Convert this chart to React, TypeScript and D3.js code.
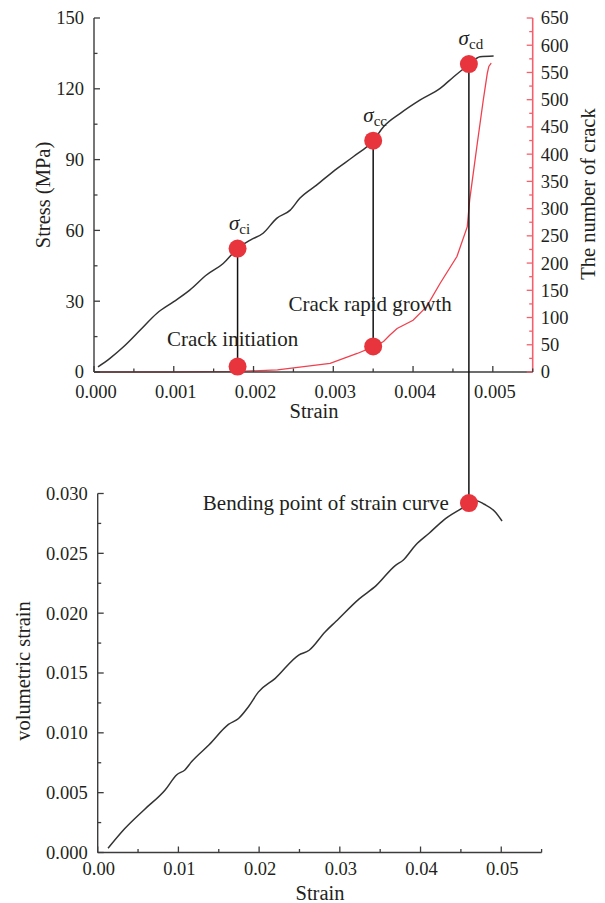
import React from "react";
import * as d3 from "d3";

// Stress–strain curve (axial strain, MPa)
const stressStrain = [0.00005, 0.0002, 0.00037, 0.00058, 0.00079, 0.001, 0.0012, 0.00141, 0.00162, 0.00179, 0.00196, 0.00212, 0.00229, 0.00246, 0.00258, 0.00279, 0.00305, 0.00325, 0.0035, 0.00363, 0.00384, 0.00409, 0.00434, 0.00451, 0.00471, 0.00484, 0.00501];
const stressMPa = [2.2, 5.8, 10.7, 17.8, 24.9, 29.8, 34.7, 41.1, 46, 52, 55.9, 58.8, 65.1, 68.6, 73.6, 79.2, 86.3, 91.2, 98, 103.9, 109.6, 115.3, 120.2, 125.1, 130.5, 133.6, 133.9];

// Cumulative crack count
const crackStrain = [0, 0.001, 0.0018, 0.0023, 0.00263, 0.00296, 0.00313, 0.0033, 0.0035, 0.00363, 0.00371, 0.0038, 0.004, 0.00417, 0.00434, 0.00455, 0.00468, 0.00471, 0.0048, 0.00488, 0.00493, 0.00495, 0.00498];
const crackCount = [0, 0, 1, 4, 10, 16, 25, 34, 46, 56, 68, 80, 95, 120, 163, 212, 267, 316, 414, 499, 548, 561, 567];

// Volumetric strain curve
const volAxialStrain = [0.00128, 0.00336, 0.0058, 0.00833, 0.0098, 0.0108, 0.01165, 0.0138, 0.0162, 0.01745, 0.0187, 0.0199, 0.022, 0.0249, 0.0262, 0.0282, 0.0295, 0.0324, 0.0345, 0.0369, 0.0378, 0.0394, 0.0411, 0.0429, 0.0452, 0.0461, 0.0469, 0.0479, 0.0492, 0.0501];
const volStrain = [0.00035, 0.002, 0.0036, 0.0052, 0.0065, 0.0069, 0.0076, 0.009, 0.0107, 0.0112, 0.0122, 0.0134, 0.01455, 0.0165, 0.0169, 0.01845, 0.0193, 0.0212, 0.0223, 0.024, 0.0244, 0.0257, 0.0267, 0.0278, 0.0288, 0.0292, 0.0294, 0.0291, 0.0285, 0.0277];

// Tick values
const stressTicks = [0, 30, 60, 90, 120, 150];
const crackTicks = [0, 50, 100, 150, 200, 250, 300, 350, 400, 450, 500, 550, 600, 650];
const topStrainTicks = [0, 0.001, 0.002, 0.003, 0.004, 0.005];
const volTicks = [0, 0.005, 0.01, 0.015, 0.02, 0.025, 0.03];
const bottomStrainTicks = [0, 0.01, 0.02, 0.03, 0.04, 0.05];

// Characteristic stresses
const stressPoints = [
  { sub: "ci", strain: 0.0018, stress: 52.3 },
  { sub: "cc", strain: 0.0035, stress: 98 },
  { sub: "cd", strain: 0.0047, stress: 130.5 },
];
const crackPoints = [
  { strain: 0.0018, count: 10 },
  { strain: 0.0035, count: 47 },
];
const bendPoint = { strain: 0.046, vol: 0.0292 };

const FONT = "'Liberation Serif', 'Times New Roman', serif";
const AXIS = "#3c3c3c";
const RED_AXIS = "#f2606c";
const RED_LINE = "#f0404e";
const DOT = "#e8343d";
const TEXT = "#231f20";

export default function App() {
  const xTop = d3.scaleLinear().domain([0, 0.0055]).range([94, 532.7]);
  const yStress = d3.scaleLinear().domain([0, 150]).range([372, 18]);
  const yCrack = d3.scaleLinear().domain([0, 650]).range([372, 18]);
  const xBot = d3.scaleLinear().domain([0, 0.055]).range([97.7, 541.6]);
  const yVol = d3.scaleLinear().domain([0, 0.03]).range([852.5, 493.5]);

  const stressLine = d3
    .line<number>()
    .curve(d3.curveMonotoneX)
    .x((_, i) => xTop(stressStrain[i]))
    .y((d) => yStress(d))(stressMPa) as string;
  const crackLine = d3
    .line<number>()
    .x((_, i) => xTop(crackStrain[i]))
    .y((d) => yCrack(d))(crackCount) as string;
  const volLine = d3
    .line<number>()
    .curve(d3.curveMonotoneX)
    .x((_, i) => xBot(volAxialStrain[i]))
    .y((d) => yVol(d))(volStrain) as string;

  const x0 = xTop(0);
  const x1 = xTop(0.0055);
  const yb = yStress(0);
  const bx0 = xBot(0);
  const bx1 = xBot(0.055);
  const byb = yVol(0);

  const MAJ = 6;
  const MIN = 3.5;

  return (
    <svg
      width={605}
      height={903}
      style={{ position: "absolute", left: 0, top: 0, background: "#fff" }}
      fontFamily={FONT}
    >
      <rect x={0} y={0} width={605} height={903} fill="#fff" />

      {/* ---------- Upper panel: stress and crack count ---------- */}
      <g>
        <path d={crackLine} fill="none" stroke={RED_LINE} strokeWidth={1.3} />
        <path d={stressLine} fill="none" stroke="#333" strokeWidth={1.5} />

        <line x1={x0} y1={yStress(150)} x2={x0} y2={yb} stroke={AXIS} strokeWidth={1.4} />
        <line x1={x0} y1={yb} x2={x1} y2={yb} stroke={AXIS} strokeWidth={1.4} />
        <line x1={x1} y1={yCrack(650)} x2={x1} y2={yb} stroke={RED_AXIS} strokeWidth={1.6} />

        {d3.range(0, 11).map((i) => {
          const y = yStress(i * 15);
          return (
            <line key={`sl${i}`} x1={x0} x2={x0 + (i % 2 === 0 ? MAJ : MIN)} y1={y} y2={y} stroke={AXIS} strokeWidth={1.3} />
          );
        })}
        {stressTicks.map((v) => (
          <text key={`st${v}`} x={x0 - 10} y={yStress(v)} dy="0.35em" textAnchor="end" fontSize={18.5} fill={TEXT}>
            {v}
          </text>
        ))}

        {d3.range(0, 27).map((i) => {
          const y = yCrack(i * 25);
          return (
            <line key={`cl${i}`} x1={x1} x2={x1 - (i % 2 === 0 ? MAJ : MIN)} y1={y} y2={y} stroke={RED_AXIS} strokeWidth={1.3} />
          );
        })}
        {crackTicks.map((v) => (
          <text key={`ct${v}`} x={x1 + 8} y={yCrack(v)} dy="0.35em" textAnchor="start" fontSize={18.5} fill={TEXT}>
            {v}
          </text>
        ))}

        {d3.range(0, 12).map((i) => {
          const x = xTop(i * 0.0005);
          return (
            <line key={`xl${i}`} x1={x} x2={x} y1={yb} y2={yb - (i % 2 === 0 ? MAJ : MIN)} stroke={AXIS} strokeWidth={1.3} />
          );
        })}
        {topStrainTicks.map((v) => (
          <text key={`xt${v}`} x={xTop(v) + 2} y={yb + 26} textAnchor="middle" fontSize={18.5} fill={TEXT}>
            {v.toFixed(3)}
          </text>
        ))}

        <text x={314} y={418} textAnchor="middle" fontSize={20.5} fill={TEXT}>
          Strain
        </text>
        <text transform="translate(43,195) rotate(-90)" dy="0.35em" textAnchor="middle" fontSize={20.5} fill={TEXT}>
          Stress (MPa)
        </text>
        <text transform="translate(588,194) rotate(-90)" dy="0.35em" textAnchor="middle" fontSize={20.5} fill={TEXT}>
          The number of crack
        </text>
      </g>

      {/* ---------- Lower panel: volumetric strain ---------- */}
      <g>
        <path d={volLine} fill="none" stroke="#333" strokeWidth={1.5} />

        <line x1={bx0} y1={yVol(0.03)} x2={bx0} y2={byb} stroke={AXIS} strokeWidth={1.4} />
        <line x1={bx0} y1={byb} x2={bx1} y2={byb} stroke={AXIS} strokeWidth={1.4} />

        {d3.range(0, 13).map((i) => {
          const y = yVol(i * 0.0025);
          return (
            <line key={`vl${i}`} x1={bx0} x2={bx0 + (i % 2 === 0 ? MAJ : MIN)} y1={y} y2={y} stroke={AXIS} strokeWidth={1.3} />
          );
        })}
        {volTicks.map((v) => (
          <text key={`vt${v}`} x={bx0 - 10} y={yVol(v)} dy="0.35em" textAnchor="end" fontSize={18.5} fill={TEXT}>
            {v.toFixed(3)}
          </text>
        ))}

        {d3.range(0, 12).map((i) => {
          const x = xBot(i * 0.005);
          return (
            <line key={`bl${i}`} x1={x} x2={x} y1={byb} y2={byb - (i % 2 === 0 ? MAJ : MIN)} stroke={AXIS} strokeWidth={1.3} />
          );
        })}
        {bottomStrainTicks.map((v) => (
          <text key={`bt${v}`} x={xBot(v) + 1} y={byb + 22} textAnchor="middle" fontSize={18.5} fill={TEXT}>
            {v.toFixed(2)}
          </text>
        ))}

        <text x={320} y={900} textAnchor="middle" fontSize={20.5} fill={TEXT}>
          Strain
        </text>
        <text transform="translate(23,671) rotate(-90)" dy="0.35em" textAnchor="middle" fontSize={20.5} fill={TEXT}>
          volumetric strain
        </text>
      </g>

      {/* ---------- Connectors and characteristic points ---------- */}
      <line
        x1={xTop(stressPoints[0].strain)}
        x2={xTop(stressPoints[0].strain)}
        y1={yStress(stressPoints[0].stress)}
        y2={yCrack(crackPoints[0].count)}
        stroke="#111"
        strokeWidth={1.5}
      />
      <line
        x1={xTop(stressPoints[1].strain)}
        x2={xTop(stressPoints[1].strain)}
        y1={yStress(stressPoints[1].stress)}
        y2={yCrack(crackPoints[1].count)}
        stroke="#111"
        strokeWidth={1.5}
      />
      <line
        x1={xTop(stressPoints[2].strain)}
        x2={xTop(stressPoints[2].strain)}
        y1={yStress(stressPoints[2].stress)}
        y2={yVol(bendPoint.vol)}
        stroke="#111"
        strokeWidth={1.5}
      />

      {stressPoints.map((p) => (
        <g key={p.sub}>
          <circle cx={xTop(p.strain)} cy={yStress(p.stress)} r={9} fill={DOT} />
          <text x={xTop(p.strain) + 2} y={yStress(p.stress) - 19} textAnchor="middle" fill={TEXT}>
            <tspan fontStyle="italic" fontSize={21}>σ</tspan>
            <tspan fontSize={15} dy={4}>{p.sub}</tspan>
          </text>
        </g>
      ))}
      {crackPoints.map((p, i) => (
        <circle key={`cp${i}`} cx={xTop(p.strain)} cy={yCrack(p.count)} r={9} fill={DOT} />
      ))}
      <circle cx={xBot(bendPoint.strain)} cy={yVol(bendPoint.vol)} r={9} fill={DOT} />

      <text x={xTop(0.0018) - 5} y={346} textAnchor="middle" fontSize={21} fill={TEXT}>
        Crack initiation
      </text>
      <text x={xTop(0.0035) - 3} y={311} textAnchor="middle" fontSize={21} fill={TEXT}>
        Crack rapid growth
      </text>
      <text x={xBot(bendPoint.strain) - 20} y={510} textAnchor="end" fontSize={21} fill={TEXT}>
        Bending point of strain curve
      </text>
    </svg>
  );
}
